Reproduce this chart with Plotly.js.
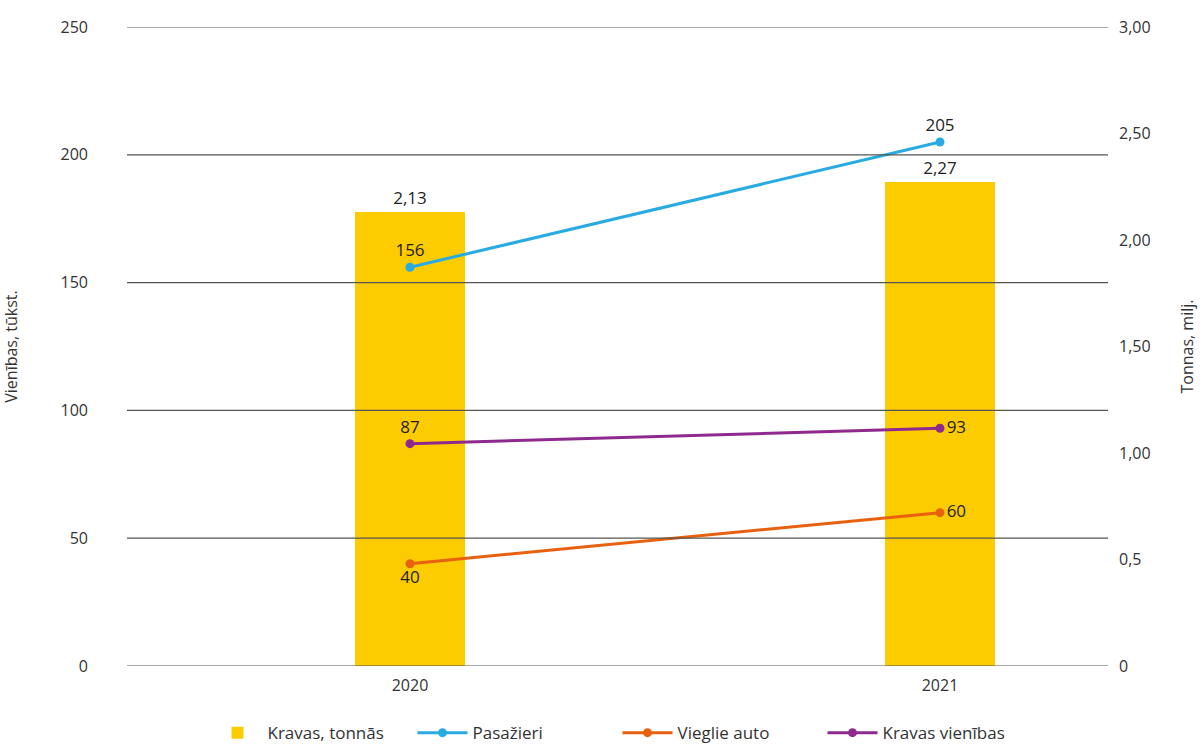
<!DOCTYPE html>
<html><head><meta charset="utf-8">
<script src="https://cdn.plot.ly/plotly-3.0.1.min.js"></script>
<style>html,body{margin:0;padding:0;background:#fff}#chart{width:1203px;height:747px}</style>
</head><body><div id="chart"></div>
<script>
const years = ['2020', '2021'];
const kravasTonnas = [2.13, 2.27];      // milj. tonnas (right axis)
const pasazieri = [156, 205];           // tūkst.
const vieglieAuto = [40, 60];
const kravasVienibas = [87, 93];
const leftTicks = [0, 50, 100, 150, 200, 250];
const rightTickVals = [0, 0.5, 1, 1.5, 2, 2.5, 3];
const rightTickText = ['0', '0,5', '1,00', '1,50', '2,00', '2,50', '3,00'];

const fmt = v => v.toFixed(2).replace('.', ',');
const txtColor = '#231f20';
const font = 'Open Sans, Noto Sans, sans-serif';

const traces = [
  {type: 'bar', name: 'Kravas, tonnās', x: years, y: kravasTonnas, yaxis: 'y',
   marker: {color: '#FCCB00'}, width: 0.207,
   text: kravasTonnas.map(fmt), textposition: 'outside', cliponaxis: false,
   textfont: {size: 17, color: txtColor, family: font}, hoverinfo: 'skip'},
  {type: 'scatter', mode: 'lines+markers+text', name: 'Pasažieri', x: years, y: pasazieri, yaxis: 'y2',
   line: {color: '#29ABE2', width: 3}, marker: {color: '#29ABE2', size: 9},
   text: pasazieri.map(String), textposition: ['top center', 'top center'], cliponaxis: false,
   textfont: {size: 17, color: txtColor, family: font}},
  {type: 'scatter', mode: 'lines+markers+text', name: 'Vieglie auto', x: years, y: vieglieAuto, yaxis: 'y2',
   line: {color: '#E8610E', width: 3}, marker: {color: '#E8610E', size: 9},
   text: vieglieAuto.map(String), textposition: ['bottom center', 'middle right'], cliponaxis: false,
   textfont: {size: 17, color: txtColor, family: font}},
  {type: 'scatter', mode: 'lines+markers+text', name: 'Kravas vienības', x: years, y: kravasVienibas, yaxis: 'y2',
   line: {color: '#8E2A8E', width: 3}, marker: {color: '#8E2A8E', size: 9},
   text: kravasVienibas.map(String), textposition: ['top center', 'middle right'], cliponaxis: false,
   textfont: {size: 17, color: txtColor, family: font}}
];

const shapes = leftTicks.map(v => ({
  type: 'line', xref: 'paper', x0: 0, x1: 1, yref: 'y2', y0: v, y1: v,
  line: {color: '#555', width: 1.2}, layer: 'above'
}));

const layout = {
  width: 1203, height: 747,
  margin: {l: 127, r: 95, t: 27, b: 81, autoexpand: false},
  paper_bgcolor: '#fff', plot_bgcolor: '#fff',
  font: {family: font, size: 16, color: '#333'},
  showlegend: true,
  legend: {orientation: 'h', x: 0.5, xanchor: 'center', y: -0.105, yanchor: 'middle',
           font: {size: 17, color: '#333'}, traceorder: 'normal', itemwidth: 50,
           entrywidth: 140},
  bargap: 0,
  xaxis: {type: 'category', range: [-0.534, 1.317], showgrid: false, zeroline: false,
          showline: false, ticks: '', tickfont: {size: 16, color: '#333'}, ticklabelstandoff: 8},
  yaxis: {side: 'right', range: [0, 3], tickvals: rightTickVals, ticktext: rightTickText,
          showgrid: false, zeroline: false, showline: false, ticks: '',
          tickfont: {size: 16, color: '#333'}, ticklabelstandoff: 10,
          title: {text: 'Tonnas, milj.', font: {size: 16, color: '#333'}, standoff: 32}},
  yaxis2: {overlaying: 'y', side: 'left', range: [0, 250], tickvals: leftTicks,
           showgrid: false, zeroline: false, showline: false, ticks: '',
           tickfont: {size: 16, color: '#333'}, ticklabelstandoff: 38,
           title: {text: 'Vienības, tūkst.', font: {size: 16, color: '#333'}, standoff: 38}},
  shapes: shapes
};

Plotly.newPlot('chart', traces, layout, {displayModeBar: false, staticPlot: true});
</script>
</body></html>
